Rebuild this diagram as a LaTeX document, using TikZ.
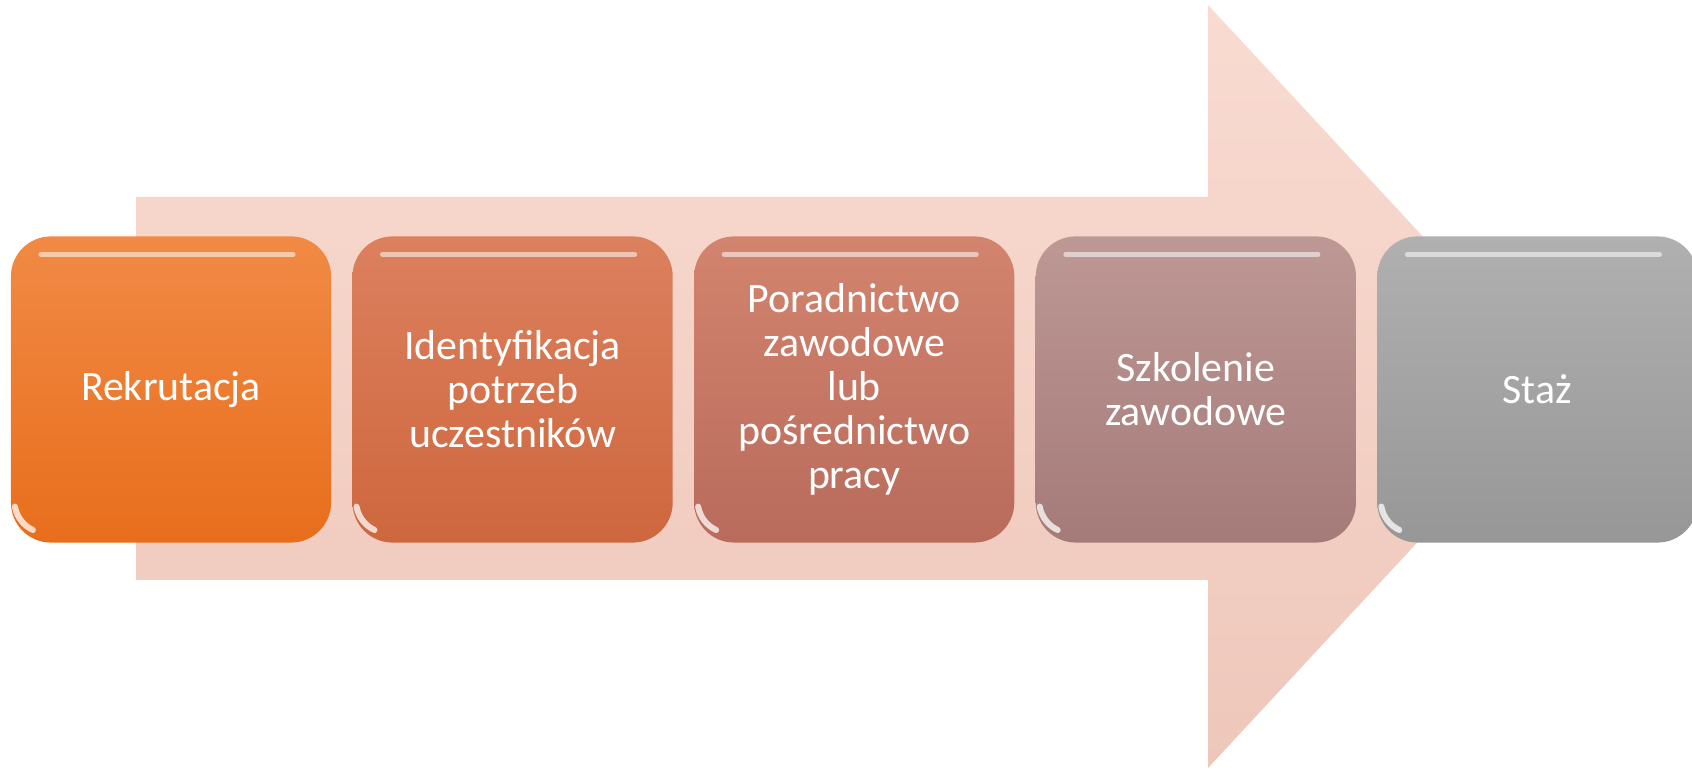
\documentclass[tikz,border=0pt]{standalone}
\usepackage{fontspec}
\setmainfont{Carlito}
\usepackage{tikz}
\usetikzlibrary{positioning}

\definecolor{arrowtop}{HTML}{F9DBD1}
\definecolor{arrowbot}{HTML}{EEC7BA}
\definecolor{orange1top}{HTML}{F18A45}
\definecolor{orange1bot}{HTML}{E86E1C}
\definecolor{orange2top}{HTML}{DC805E}
\definecolor{orange2bot}{HTML}{CE673E}
\definecolor{rose3top}{HTML}{D3846E}
\definecolor{rose3bot}{HTML}{B96B5C}
\definecolor{mauve4top}{HTML}{BD9895}
\definecolor{mauve4bot}{HTML}{A57B79}
\definecolor{grey5top}{HTML}{B0B0B0}
\definecolor{grey5bot}{HTML}{979797}

\begin{document}
\begin{tikzpicture}[
    x=0.01cm, y=-0.01cm,
    node distance=0.2cm,
    stage/.style={rectangle, rounded corners=0.4cm, minimum width=3.2cm, minimum height=3.06cm,
        inner sep=0pt, text=white, align=center, font=\fontsize{11.9}{12.5}\selectfont,
        path picture={
            \draw[white, line width=0.05cm, opacity=0.55, line cap=round]
                ([xshift=0.3cm, yshift=-0.18cm]path picture bounding box.north west) --
                ([xshift=-0.38cm, yshift=-0.18cm]path picture bounding box.north east);
            \draw[white, line width=0.06cm, opacity=0.75, line cap=round]
                ([xshift=0.04cm, yshift=0.36cm]path picture bounding box.south west)
                arc (190:245:0.32cm);
        }},
    stage1/.style={stage, top color=orange1top, bottom color=orange1bot},
    stage2/.style={stage, top color=orange2top, bottom color=orange2bot},
    stage3/.style={stage, top color=rose3top, bottom color=rose3bot},
    stage4/.style={stage, top color=mauve4top, bottom color=mauve4bot},
    stage5/.style={stage, top color=grey5top, bottom color=grey5bot}
]
    \useasboundingbox (0,0) rectangle (1692,771);

    \shade[top color=arrowtop, bottom color=arrowbot]
        (136,197) -- (1208,197) -- (1208,5) -- (1562,386.5) -- (1208,768) -- (1208,580) -- (136,580) -- cycle;

    \node[stage1] (rekrutacja) at (171,389.5) {Rekrutacja};
    \node[stage2, right=of rekrutacja] (identyfikacja) {Identyfikacja\\potrzeb\\uczestników};
    \node[stage3, right=of identyfikacja] (poradnictwo) {Poradnictwo\\zawodowe\\lub\\pośrednictwo\\pracy};
    \node[stage4, right=of poradnictwo] (szkolenie) {Szkolenie\\zawodowe};
    \node[stage5, right=of szkolenie] (staz) {Staż};
\end{tikzpicture}
\end{document}
